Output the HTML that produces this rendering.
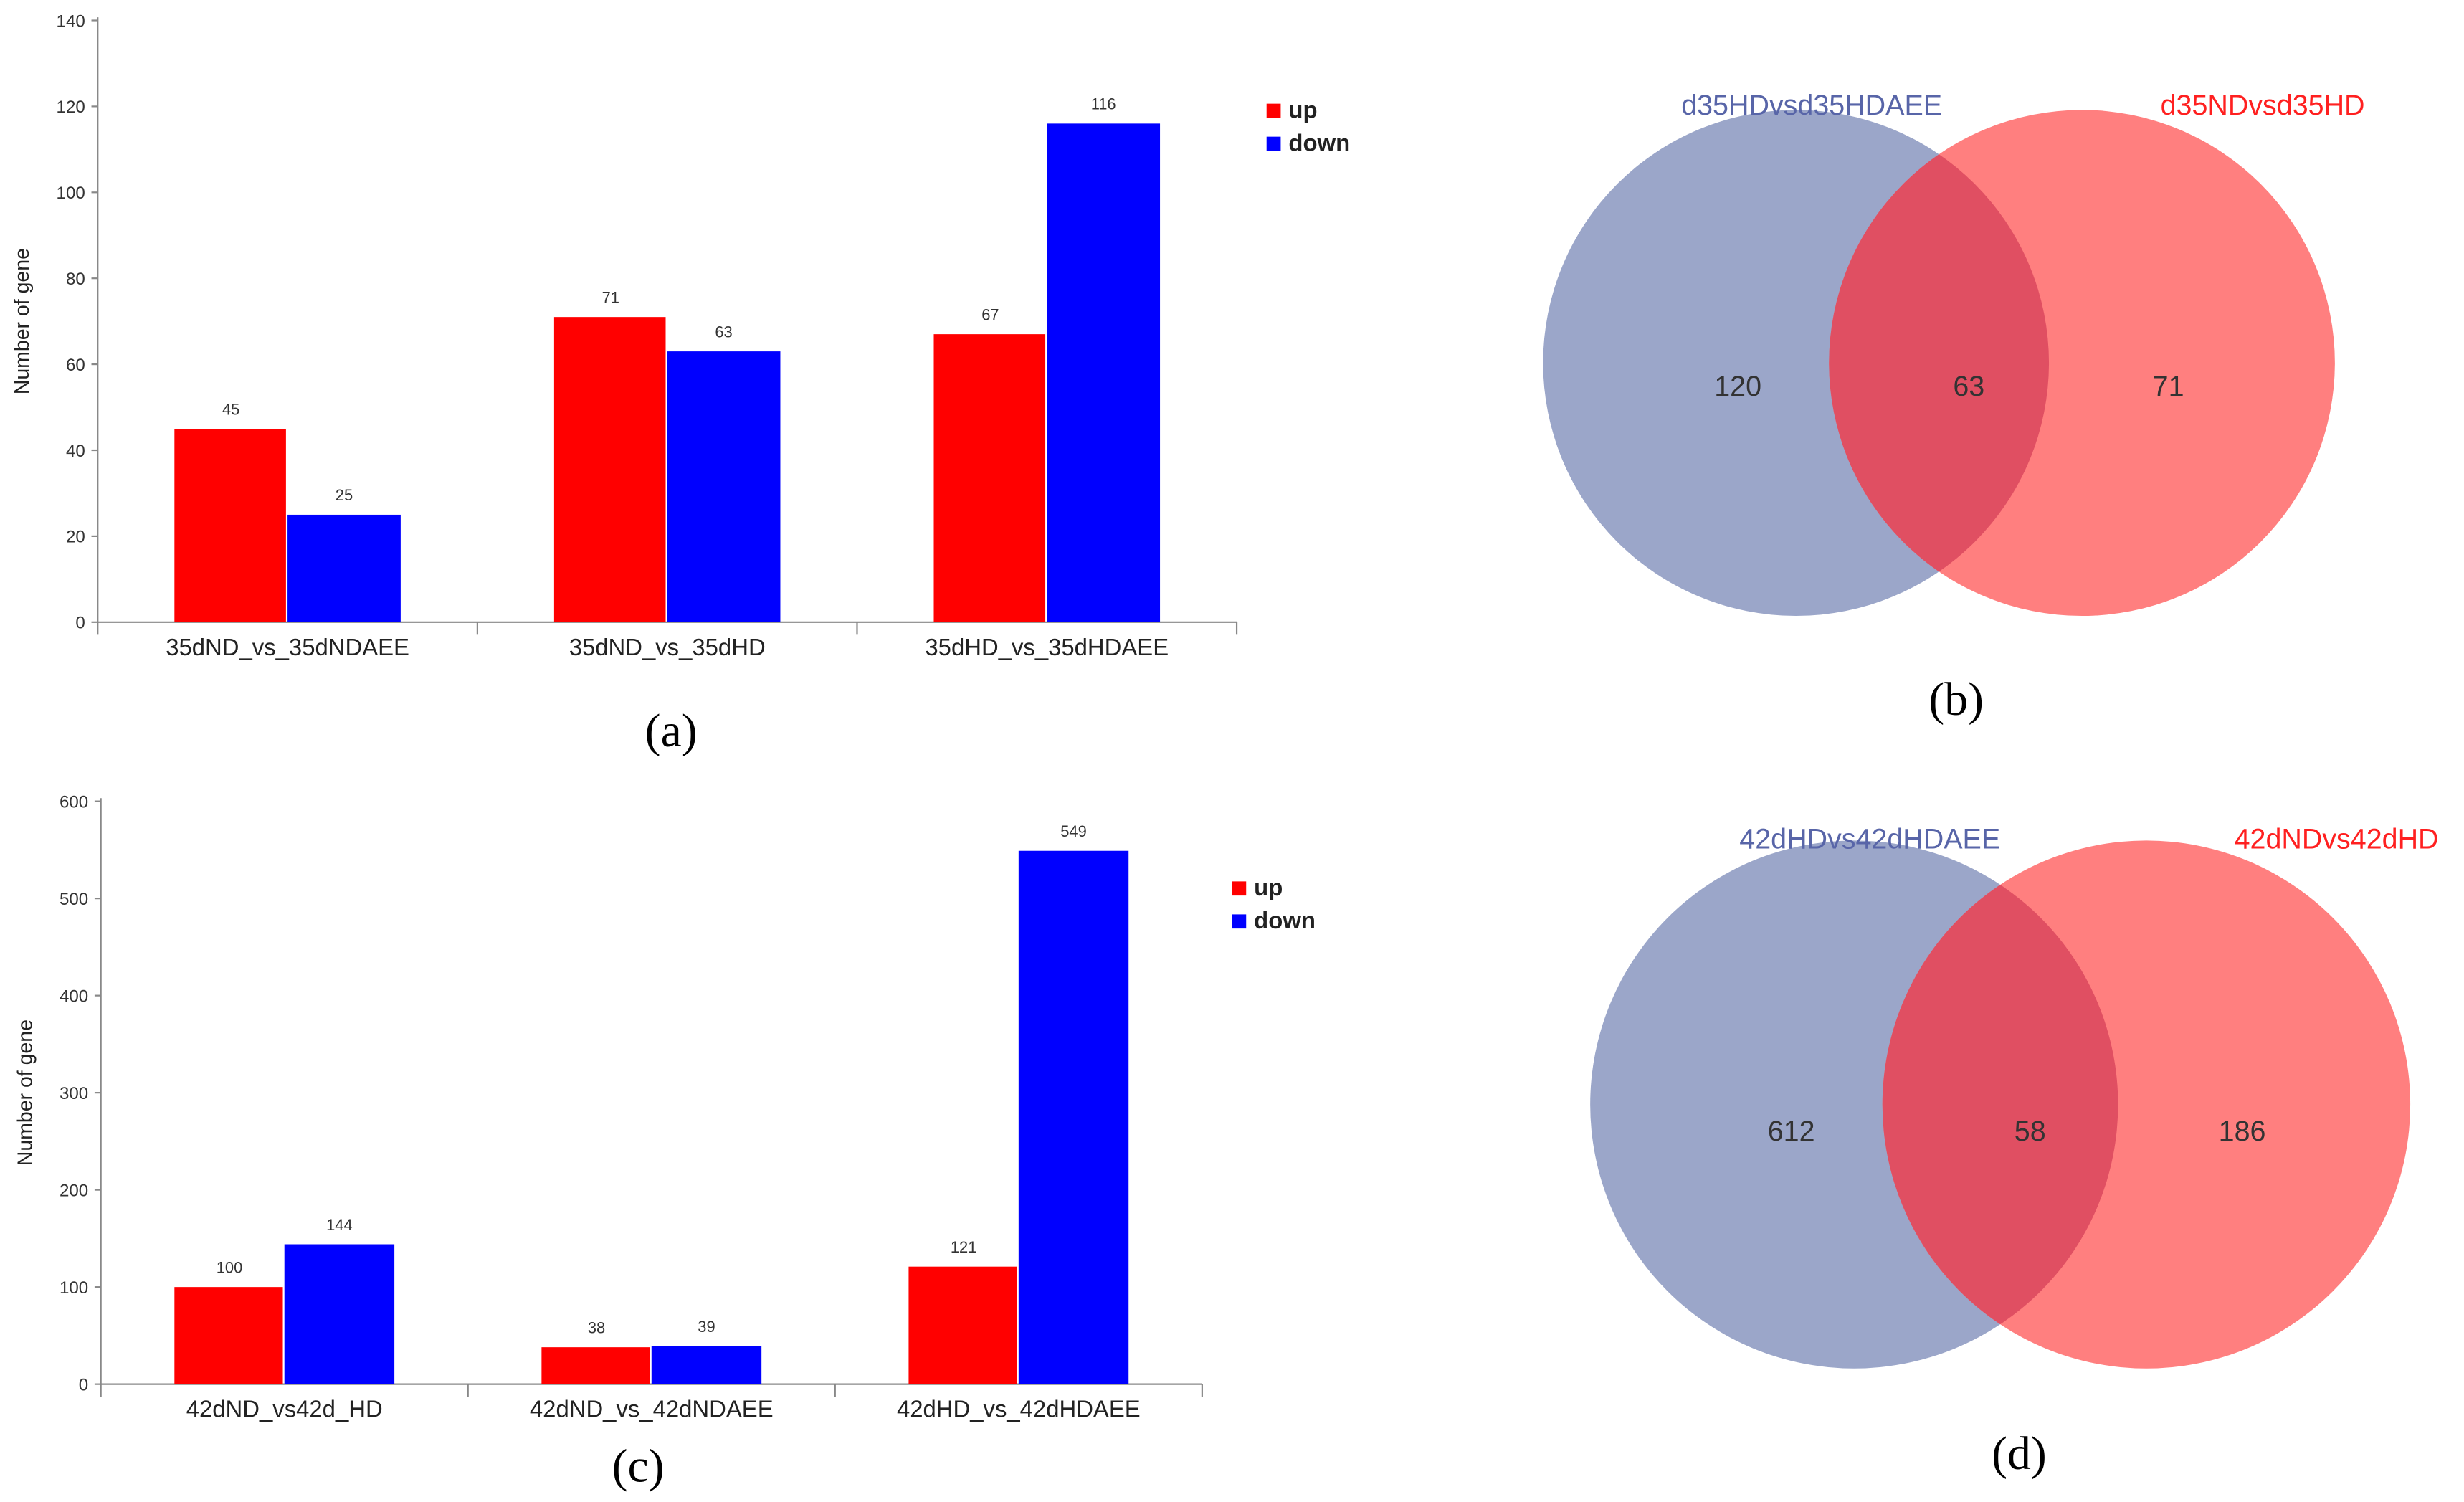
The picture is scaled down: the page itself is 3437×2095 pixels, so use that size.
<!DOCTYPE html>
<html><head><meta charset="utf-8"><style>
html,body{margin:0;padding:0;background:#fff}
svg{display:block}
text{font-family:"Liberation Sans",sans-serif}
.serif{font-family:"Liberation Serif",serif}
</style></head><body>
<svg id="fig" width="3437" height="2095" viewBox="0 0 1568 956" xmlns="http://www.w3.org/2000/svg">
<defs>
<clipPath id="clipB"><circle cx="1143" cy="231" r="161"/></clipPath>
<clipPath id="clipD"><circle cx="1180" cy="703" r="168"/></clipPath>
</defs>
<g id="chartA"></g>
<g id="chartC"></g>
<text x="427" y="475" font-size="30" text-anchor="middle" class="serif">(a)</text>
<text x="406" y="943" font-size="30" text-anchor="middle" class="serif">(c)</text>

<g>
<circle cx="1143" cy="231" r="161" fill="#9BA6C9"/>
<circle cx="1325" cy="231" r="161" fill="#FF7F7F"/>
<circle cx="1325" cy="231" r="161" fill="#E04F62" clip-path="url(#clipB)"/>
<text x="1153" y="73" font-size="18" fill="#5865A8" text-anchor="middle">d35HDvsd35HDAEE</text>
<text x="1440" y="73" font-size="18" fill="#FF2020" text-anchor="middle">d35NDvsd35HD</text>
<text x="1106" y="252" font-size="18" fill="#333" text-anchor="middle">120</text>
<text x="1253" y="252" font-size="18" fill="#333" text-anchor="middle">63</text>
<text x="1380" y="252" font-size="18" fill="#333" text-anchor="middle">71</text>
<text x="1245" y="455" font-size="30" text-anchor="middle" class="serif">(b)</text>
</g>
<g>
<circle cx="1180" cy="703" r="168" fill="#9BA6C9"/>
<circle cx="1366" cy="703" r="168" fill="#FF7F7F"/>
<circle cx="1366" cy="703" r="168" fill="#E04F62" clip-path="url(#clipD)"/>
<text x="1190" y="540" font-size="18" fill="#5865A8" text-anchor="middle">42dHDvs42dHDAEE</text>
<text x="1487" y="540" font-size="18" fill="#FF2020" text-anchor="middle">42dNDvs42dHD</text>
<text x="1140" y="726" font-size="18" fill="#333" text-anchor="middle">612</text>
<text x="1292" y="726" font-size="18" fill="#333" text-anchor="middle">58</text>
<text x="1427" y="726" font-size="18" fill="#333" text-anchor="middle">186</text>
<text x="1285" y="935" font-size="30" text-anchor="middle" class="serif">(d)</text>
</g>
</svg>
<script>
const catsA = ["35dND_vs_35dNDAEE","35dND_vs_35dHD","35dHD_vs_35dHDAEE"];
const upA = [45,71,67];
const downA = [25,63,116];
const ticksA = [0,20,40,60,80,100,120,140];
const catsC = ["42dND_vs42d_HD","42dND_vs_42dNDAEE","42dHD_vs_42dHDAEE"];
const upC = [100,38,121];
const downC = [144,39,549];
const ticksC = [0,100,200,300,400,500,600];

const NS="http://www.w3.org/2000/svg";
function mk(parent,tag,attrs,txt){const e=document.createElementNS(NS,tag);for(const k in attrs)e.setAttribute(k,attrs[k]);if(txt!==undefined)e.textContent=txt;parent.appendChild(e);return e;}

function draw(g,cfg,cats,up,down,ticks,prefix){
  const maxV=ticks[ticks.length-1];
  const y=v=>cfg.y0-(cfg.y0-cfg.yTop)*v/maxV;
  const gw=(cfg.x1-cfg.x0)/cats.length;
  const ax=mk(g,'line',{x1:cfg.x0,y1:cfg.yTop-2,x2:cfg.x0,y2:cfg.y0+8,stroke:'#888','stroke-width':1});
  
  
  const bx=mk(g,'line',{x1:cfg.x0,y1:cfg.y0,x2:cfg.x1,y2:cfg.y0,stroke:'#888','stroke-width':1});
  
  
  ticks.forEach(t=>{
    mk(g,'line',{x1:cfg.x0-4,x2:cfg.x0,y1:y(t),y2:y(t),stroke:'#888'});
    const tl=mk(g,'text',{x:cfg.x0-8,y:y(t)+4,'font-size':11,'text-anchor':'end',fill:'#333'},t);
    
    
  });
  const yt=mk(g,'text',{x:0,y:0,'font-size':13,'text-anchor':'middle',fill:'#222',transform:`translate(${cfg.x0-44},${(cfg.y0+cfg.yTop)/2}) rotate(-90)`},'Number of gene');
  
  
  cats.forEach((c,i)=>{
    const cx=cfg.x0+gw*(i+0.5);
    mk(g,'line',{x1:cfg.x0+gw*(i+1),x2:cfg.x0+gw*(i+1),y1:cfg.y0,y2:cfg.y0+8,stroke:'#888'});
    const bu=mk(g,'rect',{x:cx-cfg.bw,y:y(up[i]),width:cfg.bw-1,height:cfg.y0-y(up[i]),fill:'#FF0000'});
    
    
    const bd=mk(g,'rect',{x:cx,y:y(down[i]),width:cfg.bw,height:cfg.y0-y(down[i]),fill:'#0000FF'});
    
    
    const lu=mk(g,'text',{x:cx-cfg.bw/2,y:y(up[i])-9,'font-size':10,'text-anchor':'middle',fill:'#333'},up[i]);
    
    
    const ld=mk(g,'text',{x:cx+cfg.bw/2,y:y(down[i])-9,'font-size':10,'text-anchor':'middle',fill:'#333'},down[i]);
    
    
    const cl=mk(g,'text',{x:cx,y:cfg.y0+21,'font-size':15,'text-anchor':'middle',fill:'#222'},c);
    
    
  });
  const lg=mk(g,'g',{});
  
  
  [['up','#FF0000'],['down','#0000FF']].forEach((s,k)=>{
    const yy=cfg.ly+k*21;
    mk(lg,'rect',{x:cfg.lx,y:yy-4,width:9,height:9,fill:s[1]});
    const t=mk(lg,'text',{x:cfg.lx+14,y:yy+5,'font-size':15,'font-weight':'bold',fill:'#222'},s[0]);
    
    
  });
}
draw(document.getElementById('chartA'),{x0:62,x1:787,y0:396,yTop:13,bw:72,lx:806,ly:70},catsA,upA,downA,ticksA,'chart-a');
draw(document.getElementById('chartC'),{x0:64,x1:765,y0:881,yTop:510,bw:70,lx:784,ly:565},catsC,upC,downC,ticksC,'chart-c');
</script>
</body></html>
